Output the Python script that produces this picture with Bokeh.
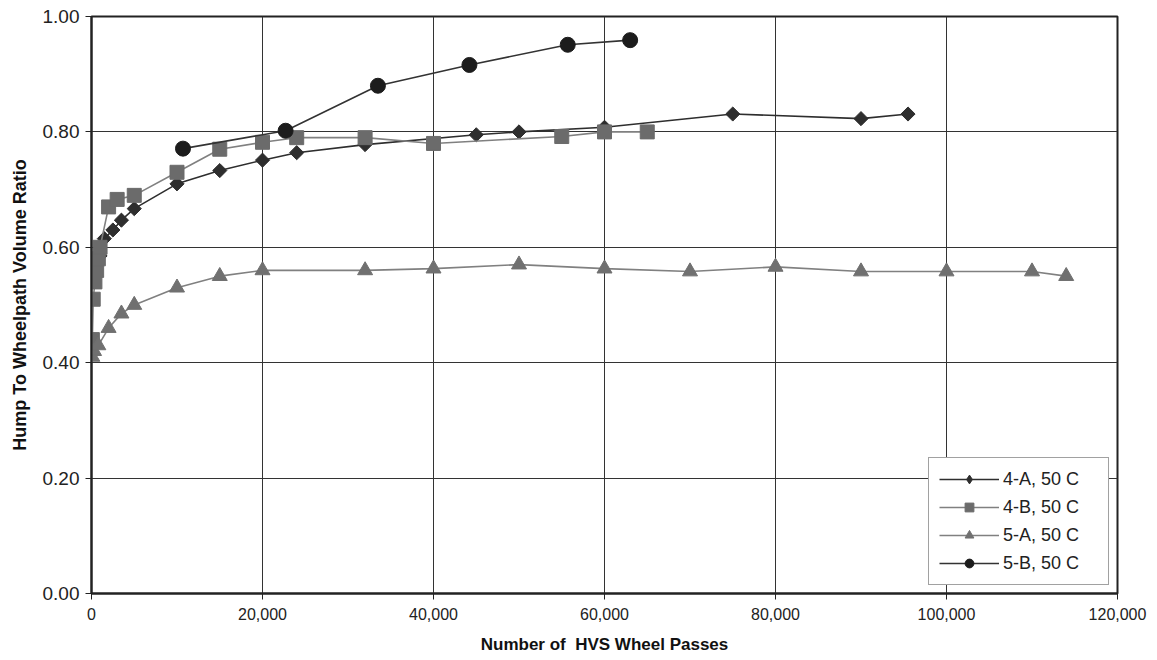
import math
from bokeh.plotting import figure
from bokeh.models import FixedTicker, NumeralTickFormatter, Range1d, ColumnDataSource, Legend, LegendItem
from bokeh.embed import file_html
from bokeh.resources import INLINE

# Data
a4_x = [250, 500, 1000, 1500, 2500, 3500, 5000, 10000, 15000, 20000, 24000, 32000, 45000, 50000, 60000, 75000, 90000, 95500]
a4_y = [0.55, 0.57, 0.585, 0.615, 0.63, 0.647, 0.667, 0.71, 0.733, 0.751, 0.764, 0.778, 0.795, 0.80, 0.808, 0.831, 0.823, 0.831]

b4_x = [100, 200, 400, 600, 800, 1000, 2000, 3000, 5000, 10000, 15000, 20000, 24000, 32000, 40000, 55000, 60000, 65000]
b4_y = [0.44, 0.51, 0.54, 0.56, 0.58, 0.60, 0.67, 0.683, 0.69, 0.73, 0.77, 0.782, 0.79, 0.79, 0.78, 0.792, 0.80, 0.80]

a5_x = [100, 300, 800, 2000, 3500, 5000, 10000, 15000, 20000, 32000, 40000, 50000, 60000, 70000, 80000, 90000, 100000, 110000, 114000]
a5_y = [0.41, 0.42, 0.43, 0.46, 0.485, 0.50, 0.53, 0.55, 0.56, 0.56, 0.563, 0.57, 0.563, 0.558, 0.566, 0.558, 0.558, 0.558, 0.55]

b5_x = [10700, 22700, 33500, 44200, 55700, 63000]
b5_y = [0.771, 0.802, 0.880, 0.916, 0.951, 0.959]

x_ticks = [0, 20000, 40000, 60000, 80000, 100000, 120000]
y_ticks = [0.0, 0.2, 0.4, 0.6, 0.8, 1.0]

labels = ["4-A, 50 C", "4-B, 50 C", "5-A, 50 C", "5-B, 50 C"]

FONT = "Liberation Sans"

p = figure(width=1157, height=660, output_backend="svg", toolbar_location=None,
           x_range=Range1d(0, 120000), y_range=Range1d(0, 1.0),
           min_border_left=91, min_border_right=40, min_border_top=16, min_border_bottom=67)
p.background_fill_color = "white"
p.border_fill_color = "white"
p.outline_line_color = "#222222"
p.outline_line_width = 2

series = [
    (a4_x, a4_y, labels[0], "#2e2e2e", "#2e2e2e", "square", 10, math.pi / 4, "diamond"),
    (b4_x, b4_y, labels[1], "#808080", "#6b6b6b", "square", 14, 0.0, None),
    (a5_x, a5_y, labels[2], "#808080", "#707070", "triangle", 15, 0.0, None),
    (b5_x, b5_y, labels[3], "#333333", "#1c1c1c", "circle", 15, 0.0, None),
]
items = []
for xs, ys, lab, lc, mc, mk, sz, ang, legend_mk in series:
    src = ColumnDataSource(dict(x=xs, y=ys))
    r_line = p.line("x", "y", source=src, line_color=lc, line_width=1.6)
    r_pts = p.scatter("x", "y", source=src, marker=mk, size=sz, angle=ang,
                      fill_color=mc, line_color=mc)
    if legend_mk is not None:
        # legend-only glyph (legend markers ignore rotation), kept outside the visible range
        r_leg = p.scatter([-1e9], [-1e9], marker=legend_mk, size=sz * 1.4,
                          fill_color=mc, line_color=mc)
        items.append(LegendItem(label=lab, renderers=[r_line, r_leg]))
    else:
        items.append(LegendItem(label=lab, renderers=[r_line, r_pts]))

p.xaxis.ticker = FixedTicker(ticks=x_ticks)
p.yaxis.ticker = FixedTicker(ticks=y_ticks)
p.xaxis.formatter = NumeralTickFormatter(format="0,0")
p.yaxis.formatter = NumeralTickFormatter(format="0.00")
p.xgrid.ticker = FixedTicker(ticks=x_ticks)
p.ygrid.ticker = FixedTicker(ticks=y_ticks)
p.grid.grid_line_color = "#333333"
p.grid.grid_line_width = 1

for ax in (p.xaxis, p.yaxis):
    ax.axis_line_color = "#222222"
    ax.axis_line_width = 2
    ax.major_tick_line_color = "#222222"
    ax.major_tick_out = 6
    ax.major_tick_in = 0
    ax.minor_tick_line_color = None
    ax.major_label_text_font = FONT
    ax.major_label_text_color = "#222222"
    ax.axis_label_text_font = FONT
    ax.axis_label_text_font_style = "bold"
    ax.axis_label_text_color = "#111111"

p.xaxis.major_label_text_font_size = "16px"
p.yaxis.major_label_text_font_size = "19px"
p.xaxis.axis_label_text_font_size = "17px"
p.yaxis.axis_label_text_font_size = "18px"

p.xaxis.axis_label = "Number of\u00a0 HVS Wheel Passes"
p.yaxis.axis_label = "Hump To Wheelpath Volume Ratio"
p.xaxis.major_label_standoff = 8
p.yaxis.major_label_standoff = 6
p.xaxis.axis_label_standoff = 12
p.yaxis.axis_label_standoff = 10

lg = Legend(items=items, location="bottom_right")
lg.margin = 8
lg.padding = 10
lg.spacing = 6
lg.glyph_width = 60
lg.glyph_height = 22
lg.label_height = 22
lg.label_width = 95
lg.label_standoff = 4
lg.label_text_font = FONT
lg.label_text_font_size = "18px"
lg.label_text_color = "#222222"
lg.border_line_color = "#444444"
lg.border_line_width = 1.5
lg.background_fill_color = "white"
lg.background_fill_alpha = 1.0
p.add_layout(lg, "center")

open("out.html", "w").write(file_html(p, INLINE))
